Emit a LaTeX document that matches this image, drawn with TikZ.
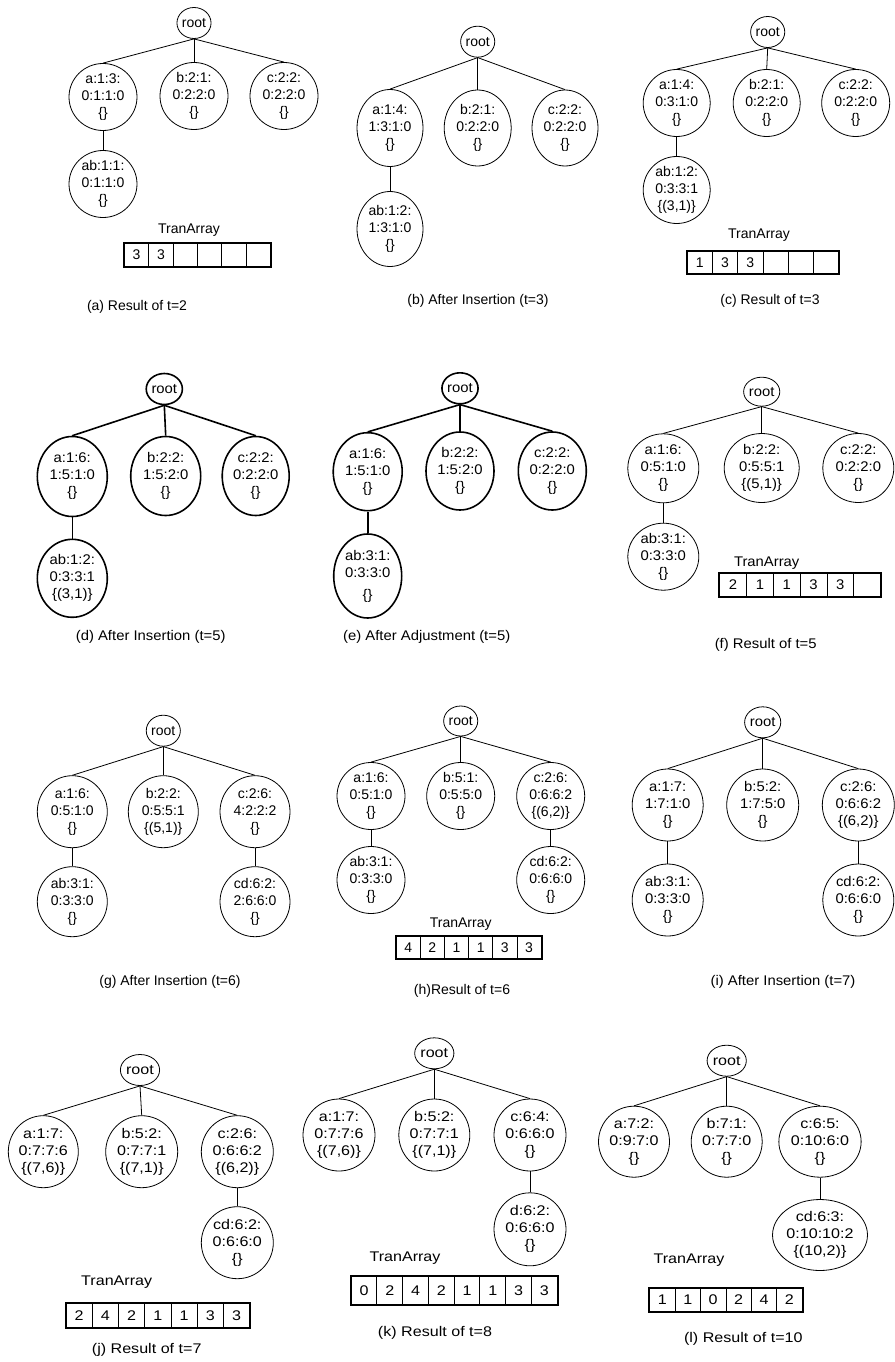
\documentclass[tikz,border=0pt]{standalone}
\usepackage{fontspec}
\setmainfont{Liberation Sans}
\newfontfamily\fsA{Liberation Sans}
\newfontfamily\fsB[FakeStretch=1.06]{Liberation Sans}
\newfontfamily\fsC[FakeStretch=1.15]{Liberation Sans}
\usetikzlibrary{shapes.geometric}
\tikzset{
  tn/.style={draw, ellipse, inner sep=0pt, align=center},
  rt/.style={tn, minimum width=32, minimum height=31},
  conn/.style={},
  cell/.style={draw, line width=0.8pt, inner sep=0pt, anchor=north west},
  lbl/.style={inner sep=0pt},
  thinp/.style={line width=0.8pt},
  boldp/.style={line width=1.6pt},
  fA/.style={every node/.append style={font=\fsA\fontsize{14}{17}\selectfont}},
  fB/.style={every node/.append style={font=\fsB\fontsize{14}{17}\selectfont}},
  fC/.style={every node/.append style={font=\fsC\fontsize{14}{17}\selectfont}},
}
\newcommand\tarr[7]{%
  \foreach \v [count=\i] in {#7} {
    \node[cell, minimum width=#4, minimum height=#5] (#1-\i) at ({#2+(\i-1)*#4},#3) {\v};
  }
  \draw[line width=2pt] (#1-1.north west) rectangle (#1-#6.south east);
}
\begin{document}
\begin{tikzpicture}[x=1pt,y=-1pt]
\fill[white] (0,0) rectangle (894,1362);
\useasboundingbox (0,0) rectangle (894,1362);

% ---------- (a)
\begin{scope}[thinp,fA]
\node[rt] (a-r) at (194,23) {root};
\node[tn, minimum width=68, minimum height=67] (a-a) at (103,97) {a:1:3:\\0:1:1:0\\\{\}};
\node[tn, minimum width=68, minimum height=67] (a-b) at (194,96) {b:2:1:\\0:2:2:0\\\{\}};
\node[tn, minimum width=68, minimum height=67] (a-c) at (284,96) {c:2:2:\\0:2:2:0\\\{\}};
\node[tn, minimum width=68, minimum height=67] (a-ab) at (103,184) {ab:1:1:\\0:1:1:0\\\{\}};
\draw[conn] (a-r.south) -- (a-a.north);
\draw[conn] (a-r.south) -- (a-b.north);
\draw[conn] (a-r.south) -- (a-c.north);
\draw[conn] (a-a.south) -- (a-ab.north);
\node[lbl] (a-t) at (189,230) {TranArray};
\tarr{a-arr}{124}{243}{24.33}{23}{6}{3,3,{},{},{},{}}
\node[lbl] (a-cap) at (137,307) {(a) Result of t=2};
\end{scope}

% ---------- (b)
\begin{scope}[thinp,fA]
\node[rt] (b-r) at (477.7,41.7) {root};
\node[tn, minimum width=66, minimum height=77] (b-a) at (390,128) {a:1:4:\\1:3:1:0\\\{\}};
\node[tn, minimum width=67, minimum height=76] (b-b) at (477.7,128) {b:2:1:\\0:2:2:0\\\{\}};
\node[tn, minimum width=66, minimum height=76] (b-c) at (565,128) {c:2:2:\\0:2:2:0\\\{\}};
\node[tn, minimum width=66, minimum height=75] (b-ab) at (390,229) {ab:1:2:\\1:3:1:0\\\{\}};
\draw[conn] (b-r.south) -- (b-a.north);
\draw[conn] (b-r.south) -- (b-b.north);
\draw[conn] (b-r.south) -- (b-c.north);
\draw[conn] (b-a.south) -- (b-ab.north);
\node[lbl] (b-cap) at (478,301) {(b) After Insertion (t=3)};
\end{scope}

% ---------- (c)
\begin{scope}[thinp,fA]
\node[rt] (c-r) at (767.7,32) {root};
\node[tn, minimum width=67, minimum height=67] (c-a) at (676.7,103) {a:1:4:\\0:3:1:0\\\{\}};
\node[tn, minimum width=67, minimum height=67] (c-b) at (766.7,103) {b:2:1:\\0:2:2:0\\\{\}};
\node[tn, minimum width=68, minimum height=67] (c-c) at (855.7,103) {c:2:2:\\0:2:2:0\\\{\}};
\node[tn, minimum width=67, minimum height=67] (c-ab) at (676.7,190) {ab:1:2:\\0:3:3:1\\\{(3,1)\}};
\draw[conn] (c-r.south) -- (c-a.north);
\draw[conn] (c-r.south) -- (c-b.north);
\draw[conn] (c-r.south) -- (c-c.north);
\draw[conn] (c-a.south) -- (c-ab.north);
\node[lbl] (c-t) at (759,235) {TranArray};
\tarr{c-arr}{686.7}{250.7}{25.27}{22.6}{6}{1,3,3,{},{},{}}
\node[lbl] (c-cap) at (770,301) {(c) Result of t=3};
\end{scope}

% ---------- (d)
\begin{scope}[boldp,fB]
\node[rt] (d-r) at (164.3,389) {root};
\node[tn, minimum width=70, minimum height=80] (d-a) at (72.3,476.5) {a:1:6:\\1:5:1:0\\\{\}};
\node[tn, minimum width=70, minimum height=79] (d-b) at (165.7,476) {b:2:2:\\1:5:2:0\\\{\}};
\node[tn, minimum width=67, minimum height=79] (d-c) at (255.7,476) {c:2:2:\\0:2:2:0\\\{\}};
\node[tn, minimum width=70, minimum height=78] (d-ab) at (72.3,578.3) {ab:1:2:\\0:3:3:1\\\{(3,1)\}};
\draw[conn] (d-r.south) -- (d-a.north);
\draw[conn] (d-r.south) -- (d-b.north);
\draw[conn] (d-r.south) -- (d-c.north);
\draw[conn] (d-a.south) -- (d-ab.north);
\node[lbl] (d-cap) at (150.7,637.3) {(d) After Insertion (t=5)};
\end{scope}

% ---------- (e)
\begin{scope}[boldp,fB]
\node[rt] (e-r) at (460,388.3) {root};
\node[tn, minimum width=69, minimum height=78] (e-a) at (367.7,471.7) {a:1:6:\\1:5:1:0\\\{\}};
\node[tn, minimum width=68, minimum height=78] (e-b) at (460,471) {b:2:2:\\1:5:2:0\\\{\}};
\node[tn, minimum width=68, minimum height=78] (e-c) at (552.3,471) {c:2:2:\\0:2:2:0\\\{\}};
\node[tn, minimum width=68, minimum height=84] (e-ab) at (367.7,576) {ab:3:1:\\0:3:3:0\\[5pt]\{\}};
\draw[conn] (e-r.south) -- (e-a.north);
\draw[conn] (e-r.south) -- (e-b.north);
\draw[conn] (e-r.south) -- (e-c.north);
\draw[conn] (e-a.south) -- (e-ab.north);
\node[lbl] (e-cap) at (426.7,637.3) {(e) After Adjustment (t=5)};
\end{scope}

% ---------- (f)
\begin{scope}[thinp,fB]
\node[rt, minimum width=35, minimum height=29] (f-r) at (761.7,391.7) {root};
\node[tn, minimum width=71, minimum height=69] (f-a) at (663.3,468.3) {a:1:6:\\0:5:1:0\\\{\}};
\node[tn, minimum width=75, minimum height=69] (f-b) at (761.7,468) {b:2:2:\\0:5:5:1\\\{(5,1)\}};
\node[tn, minimum width=71, minimum height=69] (f-c) at (858.3,468) {c:2:2:\\0:2:2:0\\\{\}};
\node[tn, minimum width=71, minimum height=67] (f-ab) at (663.3,556.7) {ab:3:1:\\0:3:3:0\\\{\}};
\draw[conn] (f-r.south) -- (f-a.north);
\draw[conn] (f-r.south) -- (f-b.north);
\draw[conn] (f-r.south) -- (f-c.north);
\draw[conn] (f-a.south) -- (f-ab.north);
\node[lbl] (f-t) at (766.7,563.3) {TranArray};
\tarr{f-arr}{719.3}{572.7}{26.8}{23.3}{6}{2,1,1,3,3,{}}
\node[lbl] (f-cap) at (765.7,645) {(f) Result of t=5};
\end{scope}

% ---------- (g)
\begin{scope}[thinp,fA]
\node[rt] (g-r) at (163.3,730.7) {root};
\node[tn, minimum width=70, minimum height=72] (g-a) at (72.3,811.7) {a:1:6:\\0:5:1:0\\\{\}};
\node[tn, minimum width=70, minimum height=72] (g-b) at (163.3,811.7) {b:2:2:\\0:5:5:1\\\{(5,1)\}};
\node[tn, minimum width=70, minimum height=72] (g-c) at (255,811.7) {c:2:6:\\4:2:2:2\\\{\}};
\node[tn, minimum width=70, minimum height=70] (g-ab) at (72.3,901.7) {ab:3:1:\\0:3:3:0\\\{\}};
\node[tn, minimum width=70, minimum height=70] (g-cd) at (255,901.7) {cd:6:2:\\2:6:6:0\\\{\}};
\draw[conn] (g-r.south) -- (g-a.north);
\draw[conn] (g-r.south) -- (g-b.north);
\draw[conn] (g-r.south) -- (g-c.north);
\draw[conn] (g-a.south) -- (g-ab.north);
\draw[conn] (g-c.south) -- (g-cd.north);
\node[lbl] (g-cap) at (170,982) {(g) After Insertion (t=6)};
\end{scope}

% ---------- (h)
\begin{scope}[thinp,fA]
\node[rt, minimum width=33, minimum height=30] (h-r) at (460.7,721) {root};
\node[tn, minimum width=68, minimum height=67] (h-a) at (371,796) {a:1:6:\\0:5:1:0\\\{\}};
\node[tn, minimum width=68, minimum height=67] (h-b) at (460.7,796) {b:5:1:\\0:5:5:0\\\{\}};
\node[tn, minimum width=68, minimum height=67] (h-c) at (550.7,796) {c:2:6:\\0:6:6:2\\\{(6,2)\}};
\node[tn, minimum width=68, minimum height=67] (h-ab) at (371,880) {ab:3:1:\\0:3:3:0\\\{\}};
\node[tn, minimum width=68, minimum height=67] (h-cd) at (550.7,880) {cd:6:2:\\0:6:6:0\\\{\}};
\draw[conn] (h-r.south) -- (h-a.north);
\draw[conn] (h-r.south) -- (h-b.north);
\draw[conn] (h-r.south) -- (h-c.north);
\draw[conn] (h-a.south) -- (h-ab.north);
\draw[conn] (h-c.south) -- (h-cd.north);
\node[lbl] (h-t) at (460.7,924) {TranArray};
\tarr{h-arr}{395.7}{936}{24.17}{21.7}{6}{4,2,1,1,3,3}
\node[lbl] (h-cap) at (462,991) {(h)Result of t=6};
\end{scope}

% ---------- (i)
\begin{scope}[thinp,fB]
\node[rt, minimum width=33] (i-r) at (762.7,722.3) {root};
\node[tn, minimum width=71, minimum height=72] (i-a) at (667.7,805) {a:1:7:\\1:7:1:0\\\{\}};
\node[tn, minimum width=72, minimum height=72] (i-b) at (762.7,805) {b:5:2:\\1:7:5:0\\\{\}};
\node[tn, minimum width=72, minimum height=72] (i-c) at (858.3,805) {c:2:6:\\0:6:6:2\\\{(6,2)\}};
\node[tn, minimum width=71, minimum height=72] (i-ab) at (667.7,900) {ab:3:1:\\0:3:3:0\\\{\}};
\node[tn, minimum width=71, minimum height=72] (i-cd) at (858.3,900) {cd:6:2:\\0:6:6:0\\\{\}};
\draw[conn] (i-r.south) -- (i-a.north);
\draw[conn] (i-r.south) -- (i-b.north);
\draw[conn] (i-r.south) -- (i-c.north);
\draw[conn] (i-a.south) -- (i-ab.north);
\draw[conn] (i-c.south) -- (i-cd.north);
\node[lbl] (i-cap) at (783,982) {(i) After Insertion (t=7)};
\end{scope}

% ---------- (j)
\begin{scope}[thinp,fC]
\node[rt] (j-r) at (140,1070) {root};
\node[tn, minimum width=70, minimum height=72] (j-a) at (43.3,1151.7) {a:1:7:\\0:7:7:6\\\{(7,6)\}};
\node[tn, minimum width=72, minimum height=72] (j-b) at (141.7,1151.7) {b:5:2:\\0:7:7:1\\\{(7,1)\}};
\node[tn, minimum width=72, minimum height=72] (j-c) at (237.3,1151.7) {c:2:6:\\0:6:6:2\\\{(6,2)\}};
\node[tn, minimum width=72, minimum height=72] (j-cd) at (237.3,1242.7) {cd:6:2:\\0:6:6:0\\\{\}};
\draw[conn] (j-r.south) -- (j-a.north);
\draw[conn] (j-r.south) -- (j-b.north);
\draw[conn] (j-r.south) -- (j-c.north);
\draw[conn] (j-c.south) -- (j-cd.north);
\node[lbl] (j-t) at (116.7,1282.3) {TranArray};
\tarr{j-arr}{65.7}{1303.3}{26.23}{24}{7}{2,4,2,1,1,3,3}
\node[lbl] (j-cap) at (146.7,1350) {(j) Result of t=7};
\end{scope}

% ---------- (k)
\begin{scope}[thinp,fC]
\node[rt] (k-r) at (434.3,1053.3) {root};
\node[tn, minimum width=72, minimum height=72] (k-a) at (339,1135) {a:1:7:\\0:7:7:6\\\{(7,6)\}};
\node[tn, minimum width=71, minimum height=72] (k-b) at (434.3,1135) {b:5:2:\\0:7:7:1\\\{(7,1)\}};
\node[tn, minimum width=72, minimum height=72] (k-c) at (530,1135) {c:6:4:\\0:6:6:0\\\{\}};
\node[tn, minimum width=72, minimum height=73] (k-d) at (530,1229.3) {d:6:2:\\0:6:6:0\\\{\}};
\draw[conn] (k-r.south) -- (k-a.north);
\draw[conn] (k-r.south) -- (k-b.north);
\draw[conn] (k-r.south) -- (k-c.north);
\draw[conn] (k-c.south) -- (k-d.north);
\node[lbl] (k-t) at (405,1258.3) {TranArray};
\tarr{k-arr}{350.7}{1276}{25.75}{28}{8}{0,2,4,2,1,1,3,3}
\node[lbl] (k-cap) at (435,1333.3) {(k) Result of t=8};
\end{scope}

% ---------- (l)
\begin{scope}[thinp,fC]
\node[rt, minimum width=33] (l-r) at (726.7,1060.7) {root};
\node[tn, minimum width=71, minimum height=71] (l-a) at (634,1141.7) {a:7:2:\\0:9:7:0\\\{\}};
\node[tn, minimum width=71, minimum height=71] (l-b) at (726.7,1141.7) {b:7:1:\\0:7:7:0\\\{\}};
\node[tn, minimum width=71, minimum height=71] (l-c) at (820,1141.7) {c:6:5:\\0:10:6:0\\\{\}};
\node[tn, minimum width=71, minimum height=71] (l-cd) at (820,1235) {cd:6:3:\\0:10:10:2\\\{(10,2)\}};
\draw[conn] (l-r.south) -- (l-a.north);
\draw[conn] (l-r.south) -- (l-b.north);
\draw[conn] (l-r.south) -- (l-c.north);
\draw[conn] (l-c.south) -- (l-cd.north);
\node[lbl] (l-t) at (689,1260) {TranArray};
\tarr{l-arr}{649.3}{1287.7}{25.4}{23.3}{6}{1,1,0,2,4,2}
\node[lbl] (l-cap) at (743.3,1339.3) {(l) Result of t=10};
\end{scope}
\end{tikzpicture}
\end{document}
